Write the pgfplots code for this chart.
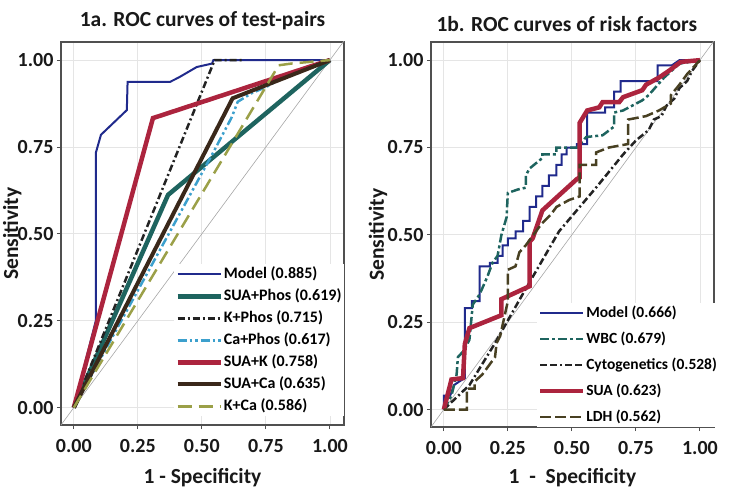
\documentclass[border=0pt]{standalone}
\usepackage{fontspec}
\setmainfont{Carlito}
\usepackage{pgfplots}
\pgfplotsset{compat=1.18}
\definecolor{cmodel}{RGB}{32,42,140}
\definecolor{cteal}{RGB}{30,100,95}
\definecolor{cblack}{RGB}{35,35,35}
\definecolor{ccyan}{RGB}{60,160,205}
\definecolor{cred}{RGB}{172,36,62}
\definecolor{cbrown}{RGB}{58,40,26}
\definecolor{colive}{RGB}{155,160,72}
\definecolor{cldh}{RGB}{72,64,34}
\definecolor{cframe}{RGB}{80,80,80}
\pgfplotsset{
  rocaxis/.style={
    scale only axis, width=283pt, height=383pt,
    xmin=-0.05, xmax=1.055, ymin=-0.05, ymax=1.052,
    xtick={0,0.25,0.5,0.75,1}, ytick={0,0.25,0.5,0.75,1},
    tick pos=left, tick align=outside, major tick length=4pt,
    grid=major, grid style={black!10, line width=0.8pt},
    axis line style={cframe, line width=1.1pt},
    tick style={cframe, line width=0.9pt},
    ticklabel style={font=\fontsize{20}{22}\selectfont\bfseries, text=black!90},
    xticklabel style={yshift=-7pt},
    /pgf/number format/.cd, fixed, fixed zerofill, precision=2, assume math mode=true,
    /pgfplots/.cd,
    xlabel style={font=\fontsize{21.5}{24}\selectfont\bfseries, text=black!90, at={(axis description cs:0.5,-0.138)}, anchor=center},
    ylabel style={font=\fontsize{21.5}{24}\selectfont\bfseries, text=black!90, at={(axis description cs:-0.187,0.5)}, anchor=center},
    title style={font=\fontsize{21.5}{24}\selectfont\bfseries, text=black!90, anchor=base},
    legend image code/.code={\draw[#1] (0pt,0pt) -- (43pt,0pt);},
    legend cell align=left,
  }
}
\begin{document}
\begin{tikzpicture}
\useasboundingbox (-61pt,-71pt) rectangle (686pt,425pt);
% ---------------- left panel
\begin{axis}[rocaxis, at={(0pt,0pt)}, anchor=south west,
  title={1a. ROC curves of test-pairs},
  title style={at={(axis description cs:0.5,1.0235)}},
  xlabel={1 - Specificity}, ylabel={Sensitivity},
  ylabel style={at={(axis description cs:-0.172,0.5)}},
  legend style={at={(axis description cs:0.40,0.42)}, anchor=north west, draw=none, fill=white,
    font=\fontsize{16}{18}\selectfont\bfseries, inner sep=1pt, row sep=4pt,
    nodes={inner sep=1pt, text height=12pt, text depth=4pt}},
]
\addplot[black!35, line width=0.6pt, forget plot] coordinates {(-0.06,-0.06) (1.07,1.07)};
\addplot[cmodel, line width=2pt] coordinates {(0,0) (0.086,0.25) (0.086,0.733) (0.106,0.785) (0.207,0.856) (0.21,0.937) (0.375,0.937) (0.41,0.95) (0.48,0.98) (0.54,0.99) (0.545,1) (1,1)};
\addlegendentry{Model (0.885)}
\addplot[cteal, line width=4.5pt] coordinates {(0,0) (0.368,0.612) (1,1)};
\addlegendentry{SUA+Phos (0.619)}
\addplot[cblack, line width=2.5pt, dash pattern=on 7pt off 3pt on 2pt off 3pt] coordinates {(0,0) (0.55,1) (0.66,1)};
\addlegendentry{K+Phos (0.715)}
\addplot[ccyan, line width=2.5pt, dash pattern=on 9pt off 3pt on 2.5pt off 3pt on 2.5pt off 3pt] coordinates {(0,0) (0.545,0.735) (0.617,0.836) (0.64,0.88) (0.695,0.905) (0.75,0.922) (0.84,0.96) (1,1)};
\addlegendentry{Ca+Phos (0.617)}
\addplot[cred, line width=4.5pt] coordinates {(0,0) (0.309,0.833) (1,1)};
\addlegendentry{SUA+K (0.758)}
\addplot[cbrown, line width=4pt] coordinates {(0,0) (0.62,0.89) (1,1)};
\addlegendentry{SUA+Ca (0.635)}
\addplot[colive, line width=2.5pt, dash pattern=on 14pt off 7pt] coordinates {(0,0) (0.80,0.985) (0.85,0.99) (1,1)};
\addlegendentry{K+Ca (0.586)}
\end{axis}
% ---------------- right panel
\begin{axis}[rocaxis, at={(370pt,-2pt)}, anchor=south west, height=385pt,
  title={1b. ROC curves of risk factors},
  title style={at={(axis description cs:0.48,1.0104)}},
  xlabel={1 \ - \ Specificity}, ylabel={Sensitivity},
  xlabel style={at={(axis description cs:0.5,-0.132)}},
  legend style={at={(axis description cs:0.373,0.322)}, anchor=north west, draw=none, fill=white,
    font=\fontsize{15.5}{18}\selectfont\bfseries, inner sep=1pt, row sep=8pt,
    nodes={inner sep=1pt, text height=12pt, text depth=4pt}},
]
\addplot[black!35, line width=0.6pt, forget plot] coordinates {(-0.06,-0.06) (1.07,1.07)};
\addplot[cmodel, line width=2pt] coordinates {(0,0) (0,0.04) (0.025,0.04) (0.04,0.07) (0.06,0.08) (0.082,0.09) (0.082,0.29) (0.11,0.29) (0.11,0.31) (0.14,0.31) (0.14,0.41) (0.18,0.41) (0.18,0.42) (0.21,0.42) (0.21,0.44) (0.23,0.44) (0.23,0.47) (0.25,0.47) (0.25,0.49) (0.28,0.49) (0.28,0.51) (0.31,0.51) (0.31,0.54) (0.335,0.54) (0.335,0.58) (0.36,0.58) (0.36,0.61) (0.385,0.61) (0.385,0.64) (0.41,0.64) (0.41,0.67) (0.44,0.67) (0.44,0.70) (0.46,0.70) (0.46,0.73) (0.48,0.73) (0.48,0.75) (0.52,0.75) (0.52,0.76) (0.56,0.76) (0.56,0.85) (0.63,0.85) (0.63,0.865) (0.665,0.865) (0.665,0.91) (0.69,0.91) (0.69,0.94) (0.835,0.94) (0.835,0.985) (0.89,0.985) (0.92,1) (1,1)};
\addlegendentry{Model (0.666)}
\addplot[cteal, line width=2.5pt, dash pattern=on 9pt off 3pt on 3pt off 3pt] coordinates {(0,0) (0.03,0.04) (0.05,0.1) (0.055,0.15) (0.08,0.17) (0.10,0.2) (0.113,0.3) (0.14,0.33) (0.17,0.38) (0.19,0.42) (0.21,0.44) (0.225,0.5) (0.245,0.55) (0.25,0.62) (0.29,0.63) (0.32,0.635) (0.32,0.67) (0.335,0.69) (0.385,0.72) (0.385,0.73) (0.44,0.73) (0.44,0.75) (0.52,0.75) (0.556,0.78) (0.62,0.785) (0.665,0.81) (0.665,0.85) (0.70,0.856) (0.775,0.885) (0.80,0.9) (0.86,0.95) (0.92,0.99) (1,1)};
\addlegendentry{WBC (0.679)}
\addplot[cblack, line width=2.5pt, dash pattern=on 7pt off 3pt on 7pt off 3pt on 2pt off 3pt] coordinates {(0,0) (0.1,0.07) (0.2,0.19) (0.3,0.32) (0.45,0.51) (0.6,0.64) (0.7,0.73) (0.75,0.77) (0.8,0.8) (0.82,0.83) (0.85,0.84) (0.87,0.87) (0.9,0.89) (0.92,0.92) (0.95,0.94) (0.97,0.97) (1,1)};
\addlegendentry{Cytogenetics (0.528)}
\addplot[cred, line width=4.5pt] coordinates {(0,0) (0.03,0.086) (0.075,0.09) (0.082,0.187) (0.10,0.233) (0.225,0.27) (0.225,0.316) (0.335,0.353) (0.335,0.48) (0.347,0.49) (0.385,0.57) (0.46,0.62) (0.52,0.66) (0.53,0.664) (0.53,0.82) (0.56,0.856) (0.607,0.865) (0.62,0.88) (0.685,0.88) (0.70,0.894) (0.775,0.914) (0.79,0.93) (0.84,0.95) (0.88,0.97) (0.925,0.995) (1,1)};
\addlegendentry{SUA (0.623)}
\addplot[cldh, line width=2.5pt, dash pattern=on 11pt off 4pt] coordinates {(0,0) (0.03,0) (0.09,0) (0.09,0.06) (0.12,0.06) (0.12,0.08) (0.15,0.1) (0.17,0.12) (0.2,0.15) (0.206,0.19) (0.22,0.21) (0.25,0.31) (0.25,0.40) (0.28,0.41) (0.295,0.45) (0.32,0.47) (0.35,0.5) (0.38,0.53) (0.42,0.56) (0.44,0.58) (0.49,0.60) (0.53,0.61) (0.53,0.70) (0.595,0.70) (0.595,0.736) (0.645,0.75) (0.72,0.76) (0.72,0.83) (0.79,0.84) (0.84,0.856) (0.887,0.876) (0.887,0.9) (0.92,0.93) (0.95,0.96) (1,1)};
\addlegendentry{LDH (0.562)}
\end{axis}
\end{tikzpicture}
\end{document}
